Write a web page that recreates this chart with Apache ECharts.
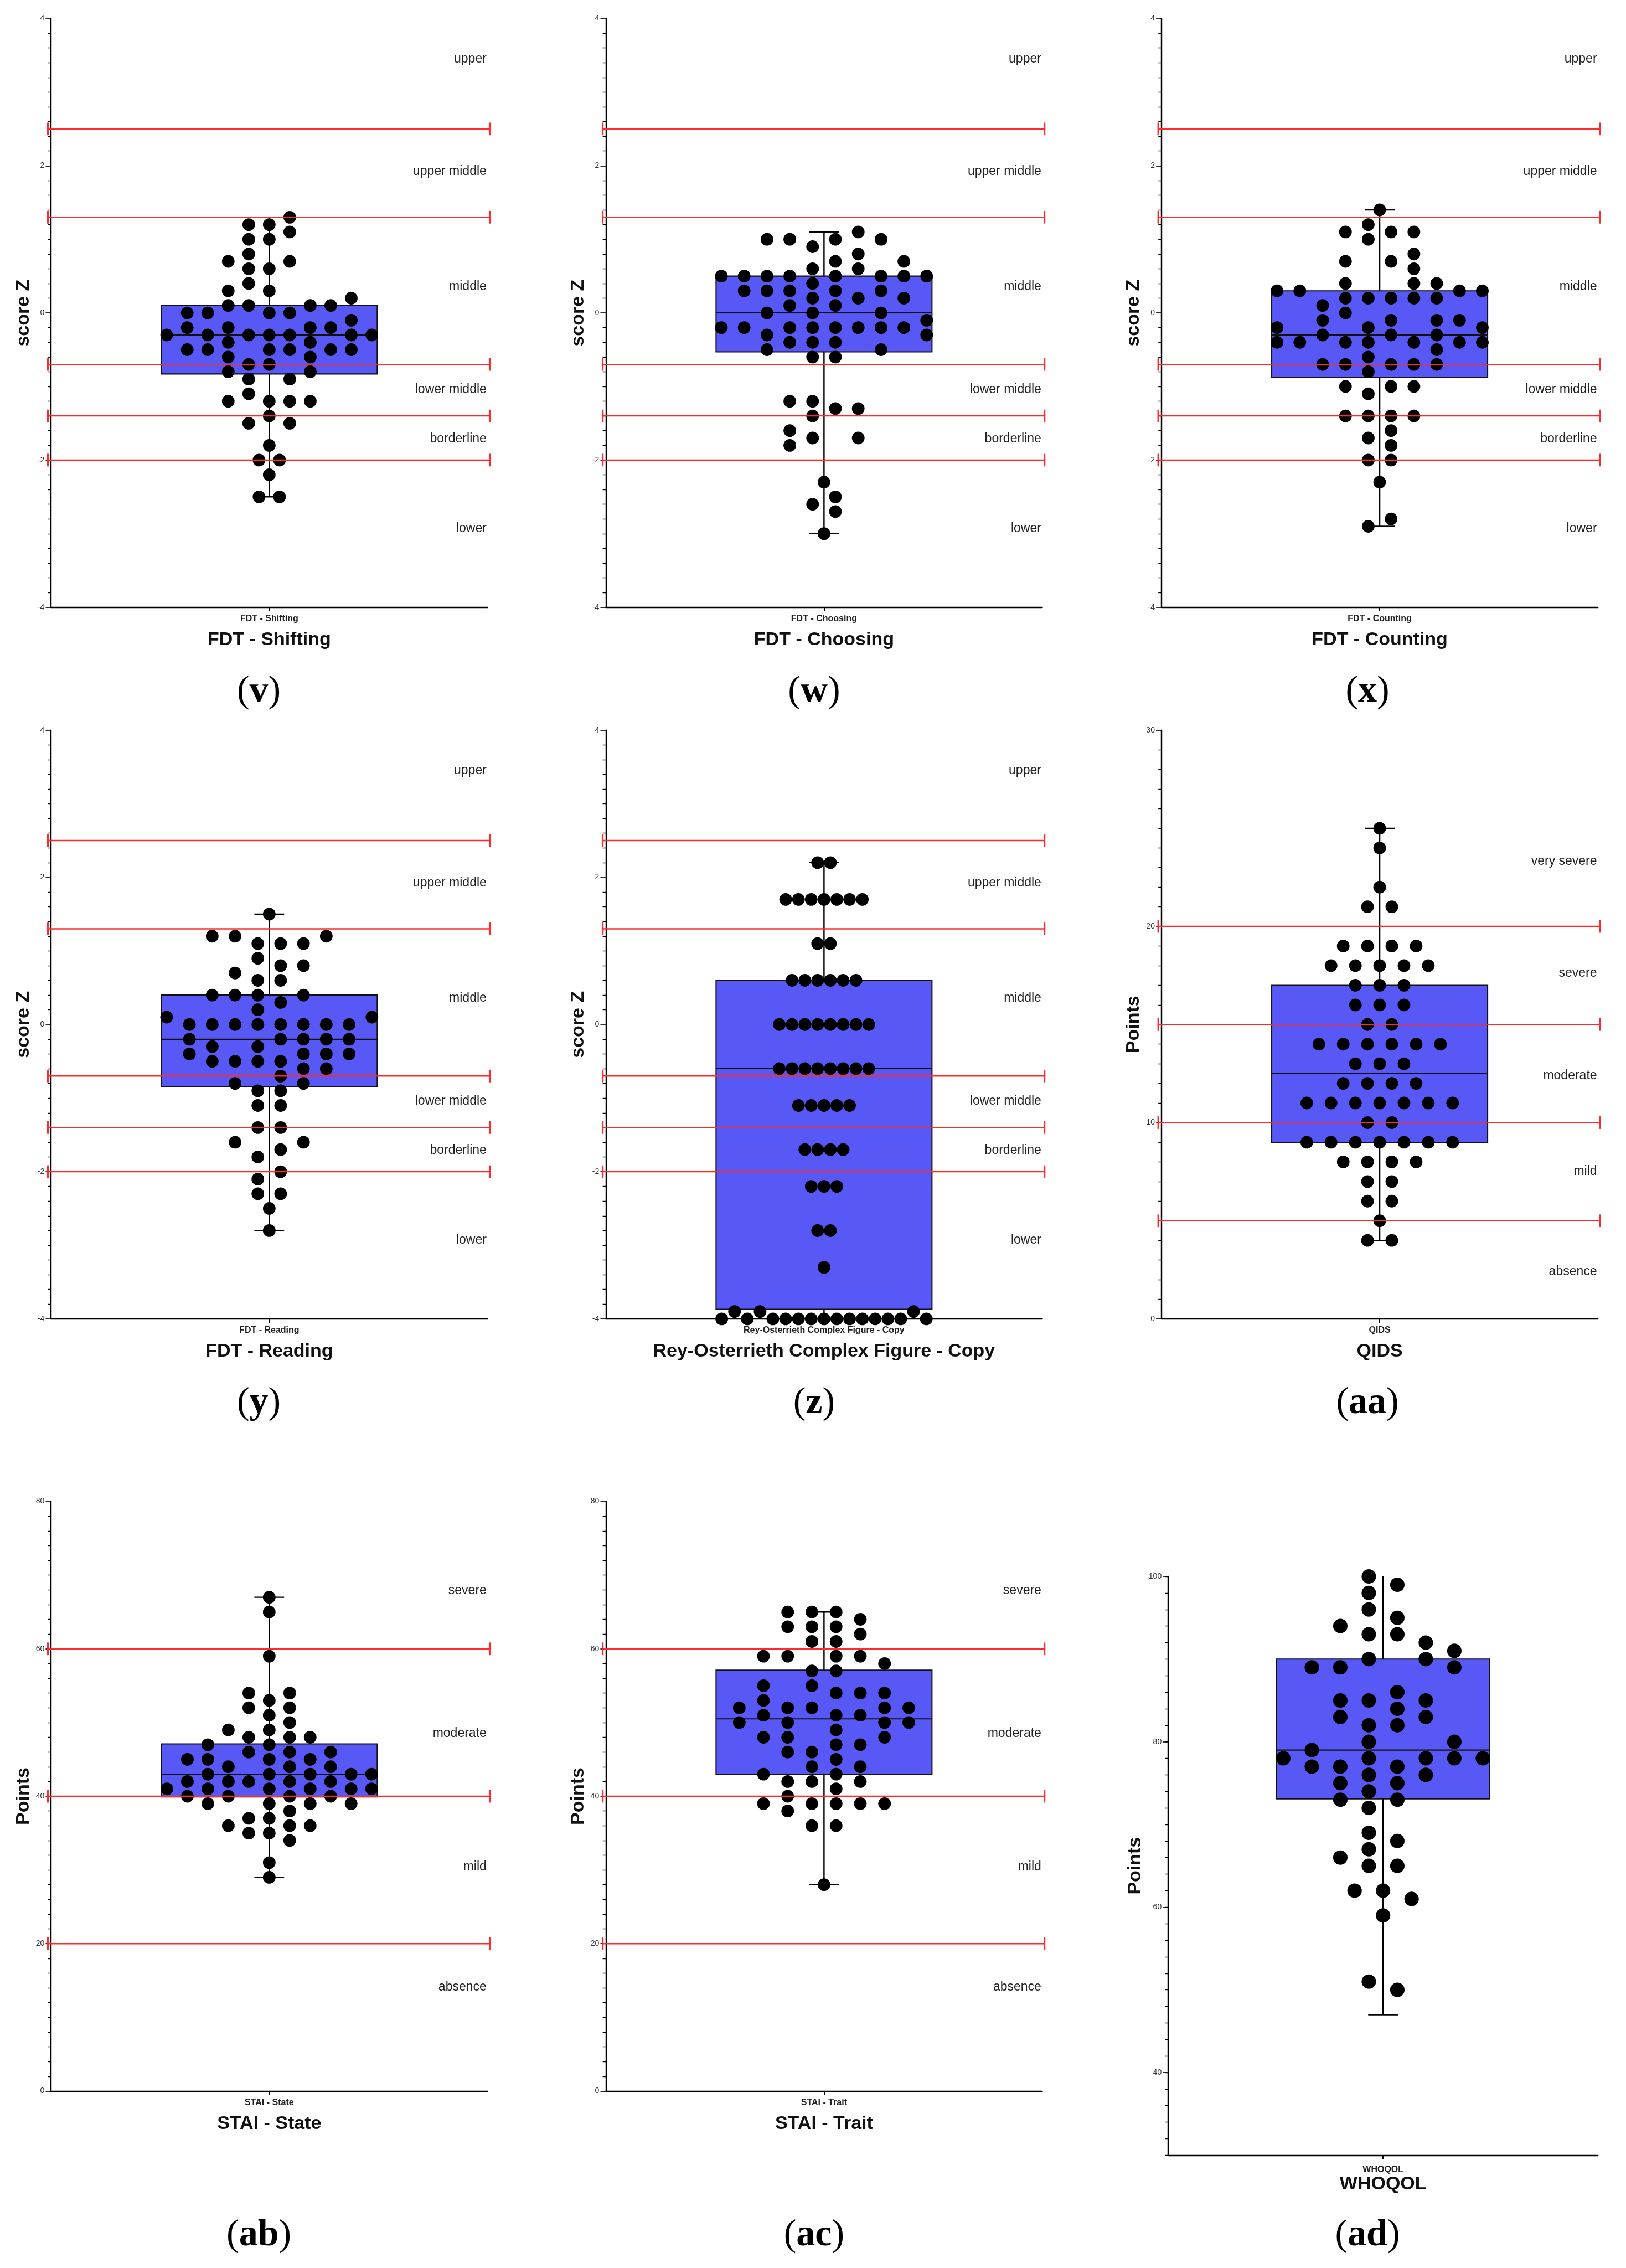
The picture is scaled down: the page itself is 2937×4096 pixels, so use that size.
<!DOCTYPE html>
<html><head><meta charset="utf-8">
<script src="https://cdn.jsdelivr.net/npm/echarts@6/dist/echarts.min.js"></script>
<style>html,body{margin:0;padding:0;background:#fff}#c{width:2937px;height:4096px}</style>
</head><body><div id="c"></div>
<script>
// ---------------- DATA ----------------
// cut-off lines and zone labels
const zScoreCutoffs = [2.5, 1.3, -0.7, -1.4, -2.0];
const zScoreZones = ['upper', 'upper middle', 'middle', 'lower middle', 'borderline', 'lower'];
const zScoreZoneAt = [3.45, 1.92, 0.36, -1.04, -1.71, -2.93];
const qidsCutoffs = [20, 15, 10, 5];
const qidsZones = ['very severe', 'severe', 'moderate', 'mild', 'absence'];
const qidsZoneAt = [23.3, 17.6, 12.4, 7.5, 2.4];
const staiCutoffs = [60, 40, 20];
const staiZones = ['severe', 'moderate', 'mild', 'absence'];
const staiZoneAt = [67.9, 48.5, 30.4, 14.1];

const panelTitles = ['FDT - Shifting', 'FDT - Choosing', 'FDT - Counting', 'FDT - Reading',
  'Rey-Osterrieth Complex Figure - Copy', 'QIDS', 'STAI - State', 'STAI - Trait', 'WHOQOL'];
const panelLetters = ['v', 'w', 'x', 'y', 'z', 'aa', 'ab', 'ac', 'ad'];

// box stats: [min, Q1, median, Q3, max]
const vBox = [-2.5, -0.83, -0.3, 0.1, 1.3];
const wBox = [-3.0, -0.53, 0.0, 0.5, 1.1];
const xBox = [-2.9, -0.88, -0.3, 0.3, 1.4];
const yBox = [-2.8, -0.84, -0.2, 0.4, 1.5];
const zBox = [-4.0, -3.87, -0.6, 0.6, 2.2];
const aaBox = [4, 9, 12.5, 17, 25];
const abBox = [29, 39.9, 43, 47.1, 67];
const acBox = [28, 43, 50.5, 57.1, 65];
const adBox = [47, 73.1, 79, 90, 100];

// points: [swarm column offset, value]
const vPoints = [[-5,-0.3],
 [-4,0.0],[-4,-0.2],[-4,-0.5],
 [-3,0.0],[-3,-0.3],[-3,-0.5],
 [-2,0.7],[-2,0.3],[-2,0.1],[-2,-0.2],[-2,-0.4],[-2,-0.6],[-2,-0.8],[-2,-1.2],
 [-1,1.2],[-1,1.0],[-1,0.8],[-1,0.6],[-1,0.4],[-1,0.1],[-1,-0.3],[-1,-0.7],[-1,-0.9],[-1,-1.1],[-1,-1.5],
 [0,1.2],[0,1.0],[0,0.6],[0,0.3],[0,0.0],[0,-0.3],[0,-0.5],[0,-0.7],[0,-1.2],[0,-1.4],[0,-1.8],[0,-2.2],
 [-0.5,-2.0],[-0.5,-2.5],[0.5,-2.0],[0.5,-2.5],
 [1,1.3],[1,1.1],[1,0.7],[1,0.0],[1,-0.3],[1,-0.5],[1,-0.9],[1,-1.2],[1,-1.5],
 [2,0.1],[2,-0.2],[2,-0.4],[2,-0.6],[2,-0.8],[2,-1.2],
 [3,0.1],[3,-0.2],[3,-0.5],
 [4,0.2],[4,-0.1],[4,-0.3],[4,-0.5],
 [5,-0.3]];
const wPoints = [[-4.5,0.5],[-4.5,-0.2],
 [-3.5,0.5],[-3.5,0.3],[-3.5,-0.2],
 [-2.5,1.0],[-2.5,0.5],[-2.5,0.3],[-2.5,0.0],[-2.5,-0.3],[-2.5,-0.5],
 [-1.5,1.0],[-1.5,0.5],[-1.5,0.3],[-1.5,0.1],[-1.5,-0.2],[-1.5,-0.4],[-1.5,-1.2],[-1.5,-1.6],[-1.5,-1.8],
 [-0.5,0.9],[-0.5,0.6],[-0.5,0.4],[-0.5,0.2],[-0.5,0.0],[-0.5,-0.2],[-0.5,-0.4],[-0.5,-0.6],[-0.5,-1.2],[-0.5,-1.4],[-0.5,-1.7],[-0.5,-2.6],
 [0,-2.3],[0,-3.0],
 [0.5,1.0],[0.5,0.7],[0.5,0.5],[0.5,0.3],[0.5,0.1],[0.5,-0.2],[0.5,-0.4],[0.5,-0.6],[0.5,-1.3],[0.5,-2.5],[0.5,-2.7],
 [1.5,1.1],[1.5,0.8],[1.5,0.6],[1.5,0.2],[1.5,-0.2],[1.5,-1.3],[1.5,-1.7],
 [2.5,1.0],[2.5,0.5],[2.5,0.3],[2.5,0.0],[2.5,-0.2],[2.5,-0.5],
 [3.5,0.7],[3.5,0.5],[3.5,0.2],[3.5,-0.2],
 [4.5,0.5],[4.5,-0.1],[4.5,-0.3]];
const xPoints = [[-4.5,0.3],[-4.5,-0.2],[-4.5,-0.4],
 [-3.5,0.3],[-3.5,-0.4],
 [-2.5,0.1],[-2.5,-0.1],[-2.5,-0.3],[-2.5,-0.7],
 [-1.5,1.1],[-1.5,0.7],[-1.5,0.4],[-1.5,0.2],[-1.5,0.0],[-1.5,-0.4],[-1.5,-0.7],[-1.5,-1.0],[-1.5,-1.4],
 [-0.5,1.2],[-0.5,1.0],[-0.5,0.2],[-0.5,-0.2],[-0.5,-0.4],[-0.5,-0.6],[-0.5,-0.8],[-0.5,-1.1],[-0.5,-1.4],[-0.5,-1.7],[-0.5,-2.0],[-0.5,-2.9],
 [0,1.4],[0,-2.3],
 [0.5,1.1],[0.5,0.7],[0.5,0.2],[0.5,-0.1],[0.5,-0.3],[0.5,-0.7],[0.5,-1.0],[0.5,-1.4],[0.5,-1.6],[0.5,-1.8],[0.5,-2.0],[0.5,-2.8],
 [1.5,1.1],[1.5,0.8],[1.5,0.6],[1.5,0.4],[1.5,0.2],[1.5,-0.4],[1.5,-0.7],[1.5,-1.0],[1.5,-1.4],
 [2.5,0.4],[2.5,0.2],[2.5,-0.1],[2.5,-0.3],[2.5,-0.5],[2.5,-0.7],
 [3.5,0.3],[3.5,-0.1],[3.5,-0.4],
 [4.5,0.3],[4.5,-0.2],[4.5,-0.4]];
const yPoints = [[-4.5,0.1],
 [-3.5,0.0],[-3.5,-0.2],[-3.5,-0.4],
 [-2.5,1.2],[-2.5,0.4],[-2.5,0.0],[-2.5,-0.3],[-2.5,-0.5],
 [-1.5,1.2],[-1.5,0.7],[-1.5,0.4],[-1.5,0.0],[-1.5,-0.5],[-1.5,-0.8],[-1.5,-1.6],
 [-0.5,1.1],[-0.5,0.9],[-0.5,0.6],[-0.5,0.4],[-0.5,0.2],[-0.5,0.0],[-0.5,-0.3],[-0.5,-0.5],[-0.5,-0.9],[-0.5,-1.1],[-0.5,-1.4],[-0.5,-1.8],[-0.5,-2.1],[-0.5,-2.3],
 [0,1.5],[0,-2.5],[0,-2.8],
 [0.5,1.1],[0.5,0.8],[0.5,0.6],[0.5,0.3],[0.5,0.0],[0.5,-0.2],[0.5,-0.5],[0.5,-0.7],[0.5,-0.9],[0.5,-1.1],[0.5,-1.4],[0.5,-1.7],[0.5,-2.0],[0.5,-2.3],
 [1.5,1.1],[1.5,0.8],[1.5,0.4],[1.5,0.0],[1.5,-0.2],[1.5,-0.4],[1.5,-0.6],[1.5,-0.8],[1.5,-1.6],
 [2.5,1.2],[2.5,0.0],[2.5,-0.2],[2.5,-0.4],[2.5,-0.6],
 [3.5,0.0],[3.5,-0.2],[3.5,-0.4],
 [4.5,0.1]];
const zPoints = [[-0.5,2.2],[0.5,2.2],
 [-3,1.7],[-2,1.7],[-1,1.7],[0,1.7],[1,1.7],[2,1.7],[3,1.7],
 [-0.5,1.1],[0.5,1.1],
 [-2.5,0.6],[-1.5,0.6],[-0.5,0.6],[0.5,0.6],[1.5,0.6],[2.5,0.6],
 [-3.5,0.0],[-2.5,0.0],[-1.5,0.0],[-0.5,0.0],[0.5,0.0],[1.5,0.0],[2.5,0.0],[3.5,0.0],
 [-3.5,-0.6],[-2.5,-0.6],[-1.5,-0.6],[-0.5,-0.6],[0.5,-0.6],[1.5,-0.6],[2.5,-0.6],[3.5,-0.6],
 [-2,-1.1],[-1,-1.1],[0,-1.1],[1,-1.1],[2,-1.1],
 [-1.5,-1.7],[-0.5,-1.7],[0.5,-1.7],[1.5,-1.7],
 [-1,-2.2],[0,-2.2],[1,-2.2],
 [-0.5,-2.8],[0.5,-2.8],
 [0,-3.3],
 [-7,-3.9],[-5,-3.9],[7,-3.9],
 [-8,-4.0],[-6,-4.0],[-4,-4.0],[-3,-4.0],[-2,-4.0],[-1,-4.0],[0,-4.0],[1,-4.0],[2,-4.0],[3,-4.0],[4,-4.0],[5,-4.0],[6,-4.0],[8,-4.0]];
const aaPoints = [[0,25],[0,24],[0,22],[-1,21],[1,21],
 [-3,19],[-1,19],[1,19],[3,19],
 [-4,18],[-2,18],[0,18],[2,18],[4,18],
 [-2,17],[0,17],[2,17],
 [-2,16],[0,16],[2,16],
 [-1,15],[1,15],
 [-5,14],[-3,14],[-1,14],[1,14],[3,14],[5,14],
 [-2,13],[0,13],[2,13],
 [-3,12],[-1,12],[1,12],[3,12],
 [-6,11],[-4,11],[-2,11],[0,11],[2,11],[4,11],[6,11],
 [-1,10],[1,10],
 [-6,9],[-4,9],[-2,9],[0,9],[2,9],[4,9],[6,9],
 [-3,8],[-1,8],[1,8],[3,8],
 [-1,7],[1,7],
 [-1,6],[1,6],
 [0,5],
 [-1,4],[1,4]];
const abPoints = [[-5,41],
 [-4,45],[-4,42],[-4,40],
 [-3,47],[-3,45],[-3,43],[-3,41],[-3,39],
 [-2,49],[-2,44],[-2,42],[-2,40],[-2,36],
 [-1,54],[-1,52],[-1,48],[-1,46],[-1,42],[-1,37],[-1,35],
 [0,67],[0,65],[0,59],[0,53],[0,51],[0,49],[0,47],[0,45],[0,43],[0,41],[0,39],[0,37],[0,35],[0,31],[0,29],
 [1,54],[1,52],[1,50],[1,48],[1,46],[1,44],[1,42],[1,40],[1,38],[1,36],[1,34],
 [2,48],[2,45],[2,43],[2,41],[2,39],[2,36],
 [3,46],[3,44],[3,42],[3,40],
 [4,43],[4,41],[4,39],
 [5,43],[5,41]];
const acPoints = [[-3.5,52],[-3.5,50],
 [-2.5,59],[-2.5,55],[-2.5,53],[-2.5,51],[-2.5,48],[-2.5,43],[-2.5,39],
 [-1.5,65],[-1.5,63],[-1.5,59],[-1.5,52],[-1.5,50],[-1.5,48],[-1.5,46],[-1.5,42],[-1.5,40],[-1.5,38],
 [-0.5,65],[-0.5,63],[-0.5,61],[-0.5,57],[-0.5,55],[-0.5,52],[-0.5,46],[-0.5,44],[-0.5,42],[-0.5,39],[-0.5,36],
 [0.5,65],[0.5,63],[0.5,61],[0.5,59],[0.5,57],[0.5,54],[0.5,51],[0.5,49],[0.5,47],[0.5,45],[0.5,43],[0.5,41],[0.5,39],[0.5,36],
 [1.5,64],[1.5,62],[1.5,59],[1.5,54],[1.5,51],[1.5,47],[1.5,44],[1.5,42],[1.5,39],
 [2.5,58],[2.5,54],[2.5,52],[2.5,50],[2.5,48],[2.5,39],
 [3.5,52],[3.5,50],
 [0,28]];
const adPoints = [[-3.5,78],
 [-2.5,89],[-2.5,79],[-2.5,77],
 [-1.5,94],[-1.5,89],[-1.5,85],[-1.5,83],[-1.5,77],[-1.5,75],[-1.5,73],[-1.5,66],
 [-1,62],
 [-0.5,100],[-0.5,98],[-0.5,96],[-0.5,93],[-0.5,90],[-0.5,85],[-0.5,82],[-0.5,80],[-0.5,78],[-0.5,76],[-0.5,74],[-0.5,72],[-0.5,69],[-0.5,67],[-0.5,65],[-0.5,51],
 [0,62],[0,59],
 [0.5,99],[0.5,95],[0.5,93],[0.5,86],[0.5,84],[0.5,82],[0.5,77],[0.5,75],[0.5,73],[0.5,68],[0.5,65],[0.5,50],
 [1,61],
 [1.5,92],[1.5,90],[1.5,85],[1.5,83],[1.5,78],[1.5,76],
 [2.5,91],[2.5,89],[2.5,80],[2.5,78],
 [3.5,78]];

// ---------------- PANEL DEFINITIONS ----------------
const panels = [
 {yName:'score Z', yMin:-4, yMax:4, yInt:2, pts:vPoints, box:vBox, cut:zScoreCutoffs, zones:zScoreZones, zoneAt:zScoreZoneAt},
 {yName:'score Z', yMin:-4, yMax:4, yInt:2, pts:wPoints, box:wBox, cut:zScoreCutoffs, zones:zScoreZones, zoneAt:zScoreZoneAt},
 {yName:'score Z', yMin:-4, yMax:4, yInt:2, pts:xPoints, box:xBox, cut:zScoreCutoffs, zones:zScoreZones, zoneAt:zScoreZoneAt},
 {yName:'score Z', yMin:-4, yMax:4, yInt:2, pts:yPoints, box:yBox, cut:zScoreCutoffs, zones:zScoreZones, zoneAt:zScoreZoneAt},
 {yName:'score Z', yMin:-4, yMax:4, yInt:2, pts:zPoints, box:zBox, cut:zScoreCutoffs, zones:zScoreZones, zoneAt:zScoreZoneAt},
 {yName:'Points', yMin:0, yMax:30, yInt:10, pts:aaPoints, box:aaBox, cut:qidsCutoffs, zones:qidsZones, zoneAt:qidsZoneAt},
 {yName:'Points', yMin:0, yMax:80, yInt:20, pts:abPoints, box:abBox, cut:staiCutoffs, zones:staiZones, zoneAt:staiZoneAt},
 {yName:'Points', yMin:0, yMax:80, yInt:20, pts:acPoints, box:acBox, cut:staiCutoffs, zones:staiZones, zoneAt:staiZoneAt},
 {yName:'Points', yMin:30, yMax:100, yInt:2, pts:adPoints, box:adBox, cut:[], zones:[], zoneAt:[], labelTicks:[40,60,80,100]}
];

// ---------------- LAYOUT (reference pixels, scaled by S) ----------------
const S = 0.816;
const SANS = '"Liberation Sans", Arial, sans-serif';
const SERIF = '"Liberation Serif", "Times New Roman", serif';
const layout = [
 {gl:113, gr:1079, gt:41, gb:1344, cx:573, cy:1531, col:45.4},
 {gl:1341, gr:2307, gt:41, gb:1344, cx:1802, cy:1531, col:50.5},
 {gl:2571, gr:3537, gt:41, gb:1344, cx:3027, cy:1531, col:50.5},
 {gl:113, gr:1079, gt:1616, gb:2919, cx:573, cy:3106, col:50.5},
 {gl:1341, gr:2307, gt:1616, gb:2919, cx:1802, cy:3106, col:28.3},
 {gl:2571, gr:3537, gt:1616, gb:2919, cx:3027, cy:3106, col:26.9},
 {gl:113, gr:1079, gt:3323, gb:4628, cx:573, cy:4948, col:45.3},
 {gl:1341, gr:2307, gt:3323, gb:4628, cx:1802, cy:4948, col:53.6},
 {gl:2586, gr:3537, gt:3489, gb:4770, cx:3027, cy:4948, col:63.1, dot:32, hw:236, nameGap:43, titleGap:32, catMargin:18, noTopCap:true}
];

const RED = '#ff2b2b';
const BOXFILL = '#5858f7';

function boxRenderer(L) {
  return function (params, api) {
    const c = v => api.coord([0, v]);
    const mn = c(api.value(1)), q1 = c(api.value(2)), md = c(api.value(3)), q3 = c(api.value(4)), mx = c(api.value(5));
    const cx = mn[0];
    const hw = (L.hw || 239) * S, cw = 33 * S;
    const ls = {stroke: '#000', lineWidth: 3 * S};
    const ch = [
      {type: 'line', shape: {x1: cx, y1: q3[1], x2: cx, y2: mx[1]}, style: ls},
      {type: 'line', shape: {x1: cx, y1: q1[1], x2: cx, y2: mn[1]}, style: ls},
      {type: 'line', shape: {x1: cx - cw, y1: mn[1], x2: cx + cw, y2: mn[1]}, style: ls},
      {type: 'rect', shape: {x: cx - hw, y: q3[1], width: 2 * hw, height: q1[1] - q3[1]},
        style: {fill: BOXFILL, stroke: '#111', lineWidth: 2.5 * S}},
      {type: 'line', shape: {x1: cx - hw, y1: md[1], x2: cx + hw, y2: md[1]}, style: {stroke: '#111', lineWidth: 2.5 * S}}
    ];
    if (!L.noTopCap) ch.push({type: 'line', shape: {x1: cx - cw, y1: mx[1], x2: cx + cw, y2: mx[1]}, style: ls});
    return {type: 'group', children: ch};
  };
}
function cutRenderer(params, api) {
  const cs = params.coordSys;
  const y = api.coord([0, api.value(1)])[1];
  const x1 = cs.x - 7 * S, x2 = cs.x + cs.width + 5 * S;
  const capStyle = {stroke: RED, lineWidth: 4 * S};
  return {type: 'group', children: [
    {type: 'line', shape: {x1: x1, y1: y, x2: x2, y2: y}, style: {stroke: RED, lineWidth: 3 * S}},
    {type: 'line', shape: {x1: x1, y1: y - 14 * S, x2: x1, y2: y + 14 * S}, style: capStyle},
    {type: 'line', shape: {x1: x2, y1: y - 14 * S, x2: x2, y2: y + 14 * S}, style: capStyle}
  ]};
}
function zoneRenderer(P) {
  return function (params, api) {
    const cs = params.coordSys;
    const y = api.coord([0, api.value(1)])[1];
    const k = api.value(2);
    return {type: 'text', style: {
      legacy: false,
      text: P.zones[k], x: cs.x + cs.width - 2 * S, y: y,
      align: 'right', verticalAlign: 'middle', textAlign: 'right', textVerticalAlign: 'middle',
      font: '23px ' + SANS, fill: '#222', textFill: '#222'
    }};
  };
}

const grid = [], xAxis = [], yAxis = [], series = [], graphic = [];
panels.forEach((P, i) => {
  const L = layout[i];
  const W = L.gr - L.gl;
  const half = W / 2 / L.col;
  grid.push({left: L.gl * S, top: L.gt * S, width: W * S, height: (L.gb - L.gt) * S, containLabel: false});
  xAxis.push({
    type: 'value', gridIndex: i, min: -half, max: half,
    axisLine: {show: true, onZero: false, lineStyle: {color: '#000', width: 3 * S}},
    axisTick: {show: true, customValues: [0], length: 9 * S, lineStyle: {color: '#000', width: 2.5 * S}},
    axisLabel: {show: true, customValues: [0], formatter: () => panelTitles[i], fontSize: 16, fontWeight: 'bold',
      fontFamily: SANS, color: '#222', margin: L.catMargin || 13},
    splitLine: {show: false},
    name: panelTitles[i], nameLocation: 'middle', nameGap: L.titleGap || 42,
    nameTextStyle: {fontSize: 34, fontWeight: 'bold', fontFamily: SANS, color: '#111'}
  });
  const yA = {
    type: 'value', gridIndex: i, position: 'left', min: P.yMin, max: P.yMax, interval: P.yInt,
    axisLine: {show: true, onZero: false, lineStyle: {color: '#000', width: 3 * S}},
    axisTick: {show: true, length: 12 * S, lineStyle: {color: '#000', width: 2 * S}},
    minorTick: {show: true, splitNumber: 10, length: 7 * S, lineStyle: {color: '#000', width: 1.8 * S}},
    axisLabel: {show: true, fontSize: 14, color: '#333', fontFamily: SANS, margin: 12},
    splitLine: {show: false}, minorSplitLine: {show: false},
    name: P.yName, nameLocation: 'middle', nameGap: L.nameGap || 33,
    nameTextStyle: {fontSize: 34, fontWeight: 'bold', fontFamily: SANS, color: '#111'}
  };
  if (P.labelTicks) {
    yA.axisTick = {show: true, length: 7 * S, lineStyle: {color: '#000', width: 1.8 * S}};
    yA.minorTick = {show: false};
    yA.axisLabel = {show: false};
  }
  yAxis.push(yA);

  series.push({type: 'custom', xAxisIndex: i, yAxisIndex: i, z: 2, silent: true,
    data: [[0].concat(P.box)], encode: {x: 0, y: [1, 2, 3, 4, 5]}, renderItem: boxRenderer(L)});
  series.push({type: 'scatter', xAxisIndex: i, yAxisIndex: i, z: 3, silent: true, clip: false,
    data: P.pts, symbol: 'circle', symbolSize: (L.dot || 28) * S, itemStyle: {color: '#000', opacity: 1}});
  if (P.cut.length) series.push({type: 'custom', xAxisIndex: i, yAxisIndex: i, z: 5, silent: true,
    data: P.cut.map(v => [0, v]), encode: {x: 0, y: 1}, renderItem: cutRenderer});
  if (P.zones.length) series.push({type: 'custom', xAxisIndex: i, yAxisIndex: i, z: 5, silent: true,
    data: P.zoneAt.map((v, k) => [0, v, k]), encode: {x: 0, y: 1}, renderItem: zoneRenderer(P)});

  graphic.push({type: 'text', x: L.cx * S, y: L.cy * S, z: 10, style: {
    legacy: false,
    text: '({b|' + panelLetters[i] + '})',
    rich: {b: {fontWeight: 'bold', fontSize: 68, fontFamily: SERIF, fill: '#000', textFill: '#000'}},
    font: '68px ' + SERIF, fill: '#000', textFill: '#000',
    align: 'center', verticalAlign: 'middle', textAlign: 'center', textVerticalAlign: 'middle'
  }});
});
// extra axis for WHOQOL labelled ticks (every 20) over the 2-unit tick axis
panels.forEach((P, i) => {
  if (!P.labelTicks) return;
  yAxis.push({
    type: 'value', gridIndex: i, position: 'left', min: P.yMin, max: P.yMax, interval: 10,
    axisLine: {show: false, onZero: false},
    axisTick: {show: true, customValues: P.labelTicks, length: 12 * S, lineStyle: {color: '#000', width: 2 * S}},
    axisLabel: {show: true, customValues: P.labelTicks, fontSize: 14, color: '#333', fontFamily: SANS, margin: 12},
    splitLine: {show: false}
  });
});

const chart = echarts.init(document.getElementById('c'), null, {renderer: 'canvas', width: 2937, height: 4096});
chart.setOption({
  animation: false,
  backgroundColor: '#fff',
  textStyle: {fontFamily: SANS},
  grid: grid, xAxis: xAxis, yAxis: yAxis, series: series, graphic: graphic
});
</script></body></html>
